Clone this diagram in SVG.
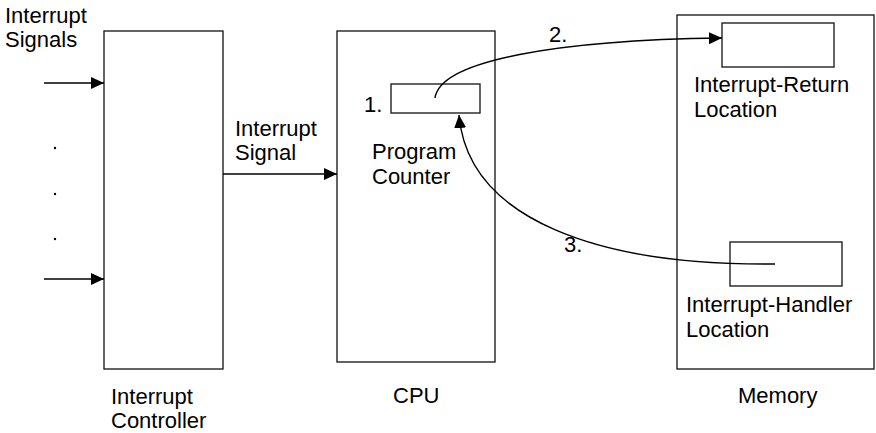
<svg xmlns="http://www.w3.org/2000/svg" width="876" height="433" viewBox="0 0 876 433">
<style>
.box{fill:#fff;stroke:#222;stroke-width:1.4}
.ln{fill:none;stroke:#000;stroke-width:1.4}
text{font-family:"Liberation Sans",Arial,sans-serif;font-size:22px;fill:#000}
</style>
<defs>
<marker id="arr" markerUnits="userSpaceOnUse" markerWidth="13" markerHeight="13" refX="13" refY="6.5" orient="auto" viewBox="0 0 13 13">
<path d="M0,0.5 L13,6.5 L0,12.5 z" fill="#000"/>
</marker>
</defs>
<rect width="876" height="433" fill="#fff"/>
<g id="inputs-label">
<text x="5" y="23">Interrupt</text>
<text x="5" y="47">Signals</text>
<circle cx="55" cy="148" r="1.2" fill="#000"/>
<circle cx="55" cy="194" r="1.2" fill="#000"/>
<circle cx="55" cy="239" r="1.2" fill="#000"/>
</g>
<g id="controller">
<rect class="box" x="104" y="31" width="119" height="338"/>
<text x="111" y="404">Interrupt</text>
<text x="111" y="428">Controller</text>
</g>
<g id="cpu">
<rect class="box" x="337" y="31" width="158" height="331"/>
<text x="393" y="403">CPU</text>
<text x="372" y="159">Program</text>
<text x="372" y="184">Counter</text>
</g>
<g id="program-counter">
<rect class="box" x="391" y="84" width="89" height="29"/>
<text x="364" y="112">1.</text>
</g>
<g id="memory">
<rect class="box" x="677" y="15" width="197" height="354"/>
<text x="738" y="403">Memory</text>
</g>
<g id="return-location">
<rect class="box" x="722" y="23" width="112" height="44"/>
<text x="694" y="92">Interrupt-Return</text>
<text x="694" y="117">Location</text>
</g>
<g id="handler-location">
<rect class="box" x="730" y="242" width="112" height="44"/>
<text x="686" y="312">Interrupt-Handler</text>
<text x="686" y="337">Location</text>
</g>
<g id="connectors">
<line class="ln" x1="44" y1="83" x2="104" y2="83" marker-end="url(#arr)"/>
<line class="ln" x1="44" y1="279" x2="104" y2="279" marker-end="url(#arr)"/>
<line class="ln" x1="223" y1="174" x2="337" y2="174" marker-end="url(#arr)"/>
<text x="235" y="136">Interrupt</text>
<text x="235" y="160">Signal</text>
<path class="ln" d="M435,98 C440,60 560,40 722,38" marker-end="url(#arr)"/>
<text x="549" y="42">2.</text>
<path class="ln" d="M775,264 C600,266 468,220 459,115" marker-end="url(#arr)"/>
<text x="564" y="252">3.</text>
</g>
</svg>
